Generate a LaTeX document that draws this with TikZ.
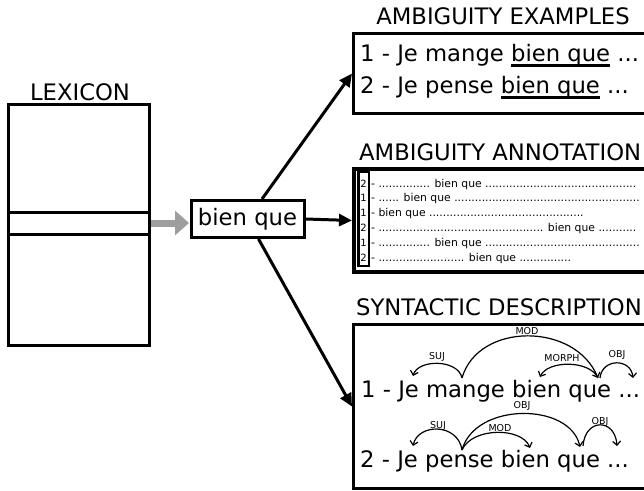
\documentclass[tikz,border=0pt]{standalone}
\usepackage{fontspec}
\setmainfont{DejaVu Sans}
\usetikzlibrary{arrows.meta}
\newcount\dotcnt
\newcommand\dd[1]{\dotcnt=0 \loop\ifnum\dotcnt<#1 .\advance\dotcnt by 1 \repeat}
\newcommand\myul[1]{\setbox0\hbox{#1}\rlap{\rule[-5.5pt]{\wd0}{2.5pt}}\box0\relax}
\tikzset{
  box/.style={draw, line width=3pt, inner sep=0pt},
  big/.style={font=\fontsize{22.7}{27}\selectfont, inner sep=0pt},
  ann/.style={font=\fontsize{10.8}{13}\selectfont, inner sep=0pt},
  dig/.style={font=\fontsize{10}{12}\selectfont, inner sep=0pt},
  lab/.style={font=\fontsize{9.5}{10}\selectfont, inner sep=0pt},
  arr/.style={line width=3pt, -{Triangle[length=13pt,width=12pt]}},
  grayarr/.style={line width=7pt, draw=black!38, -{Triangle[length=14pt,width=24pt]}},
  dep/.style={line width=1.2pt, -{Straight Barb[length=4pt,width=8pt]}},
}
\begin{document}
\begin{tikzpicture}[x=1pt,y=-1pt]
\useasboundingbox (0,0) rectangle (644,490);
\clip (0,0) rectangle (644,490);

% Lexicon
\node[big, anchor=base] (lextitle) at (80,100) {LEXICON};
\node[box, minimum width=141pt, minimum height=241pt] (lex) at (78.5,224.5) {};
\node[box, minimum width=141pt, minimum height=22pt] (entry) at (78.5,223) {};

% bien que
\node[box, big, minimum width=113pt, minimum height=37pt] (bq) at (247.5,219) {bien que};
\coordinate (grayend) at (189,223);
\draw[grayarr] (entry.east) -- (grayend);

% Examples box
\node[big, anchor=base] (extitle) at (503,24) {AMBIGUITY EXAMPLES};
\node[box, anchor=north west, minimum width=348pt, minimum height=80pt] (ex) at (352,32) {};
\node[big, anchor=base west] (ex1) at (360,61) {1 - Je mange \myul{bien que} ...};
\node[big, anchor=base west] (ex2) at (360,93) {2 - Je pense \myul{bien que} ...};

% Annotation box
\node[big, anchor=base west] (anntitle) at (359,160) {AMBIGUITY ANNOTATION};
\node[draw, line width=4pt, inner sep=0pt, anchor=north west, minimum width=348pt, minimum height=103pt] (ann) at (352,167) {};
\node[draw, line width=2.5pt, inner sep=0pt, minimum width=10.5pt, minimum height=94pt] (col) at (363.5,219) {};
\node[dig, anchor=base] (d1) at (363.5,187) {2};
\node[dig, anchor=base] (d2) at (363.5,201.8) {1};
\node[dig, anchor=base] (d3) at (363.5,216.6) {1};
\node[dig, anchor=base] (d4) at (363.5,231.4) {2};
\node[dig, anchor=base] (d5) at (363.5,246.2) {1};
\node[dig, anchor=base] (d6) at (363.5,261) {2};
\node[ann, anchor=base west] (r1) at (371,187) {- \dd{15} bien que \dd{44}};
\node[ann, anchor=base west] (r2) at (371,201.8) {- \dd{6} bien que \dd{54}};
\node[ann, anchor=base west] (r3) at (371,216.6) {- bien que \dd{45}};
\node[ann, anchor=base west] (r4) at (371,231.4) {- \dd{48} bien que \dd{11}};
\node[ann, anchor=base west] (r5) at (371,246.2) {- \dd{15} bien que \dd{45}};
\node[ann, anchor=base west] (r6) at (371,261) {- \dd{25} bien que \dd{15}};

% Syntactic box
\node[big, anchor=base west] (syntitle) at (356,315) {SYNTACTIC DESCRIPTION};
\node[box, anchor=north west, minimum width=348pt, minimum height=164pt] (syn) at (352,323) {};
\node[big, anchor=base west] (s1) at (361,397) {1 - Je mange bien que ...};
\node[big, anchor=base west] (s2) at (360,467) {2 - Je pense bien que ...};

% main arrows
\draw[arr] ([xshift=14.5pt]bq.north) -- (ex.west);
\draw[arr] (bq.east) -- (ann.west);
\draw[arr] ([xshift=11pt]bq.south) -- (syn.west);

% dependency arcs, sentence 1
\coordinate (mange1) at (462,378);
\coordinate (je1) at (413,376);
\coordinate (que1) at (598,378);
\coordinate (que1b) at (600,378);
\coordinate (bien1) at (540,377);
\coordinate (dots1) at (633,378);
\draw[dep] (mange1) .. controls (458,359) and (418,359) .. (je1);
\draw[dep] (mange1) .. controls (478,322) and (575,322) .. (que1);
\draw[dep] (que1) .. controls (590,360) and (548,360) .. (bien1);
\draw[dep] (que1b) .. controls (602,358) and (631,358) .. (dots1);
\node[lab] (l1) at (437,357) {SUJ};
\node[lab] (l2) at (527,331.5) {MOD};
\node[lab] (l3) at (562,358) {MORPH};
\node[lab] (l4) at (617,355) {OBJ};

% dependency arcs, sentence 2
\coordinate (pense2) at (462,450);
\coordinate (je2) at (413,446);
\coordinate (bien2) at (530,448);
\coordinate (que2) at (580,447);
\coordinate (que2b) at (583,446);
\coordinate (dots2) at (617,446);
\draw[dep] (pense2) .. controls (458,423) and (418,423) .. (je2);
\draw[dep] (pense2) .. controls (472,427) and (522,427) .. (bien2);
\draw[dep] (pense2) .. controls (475,402) and (570,402) .. (que2);
\draw[dep] (que2b) .. controls (585,418) and (615,418) .. (dots2);
\node[lab] (m1) at (438,426) {SUJ};
\node[lab] (m2) at (500,428) {MOD};
\node[lab] (m3) at (522,406) {OBJ};
\node[lab] (m4) at (600,422) {OBJ};
\end{tikzpicture}
\end{document}
